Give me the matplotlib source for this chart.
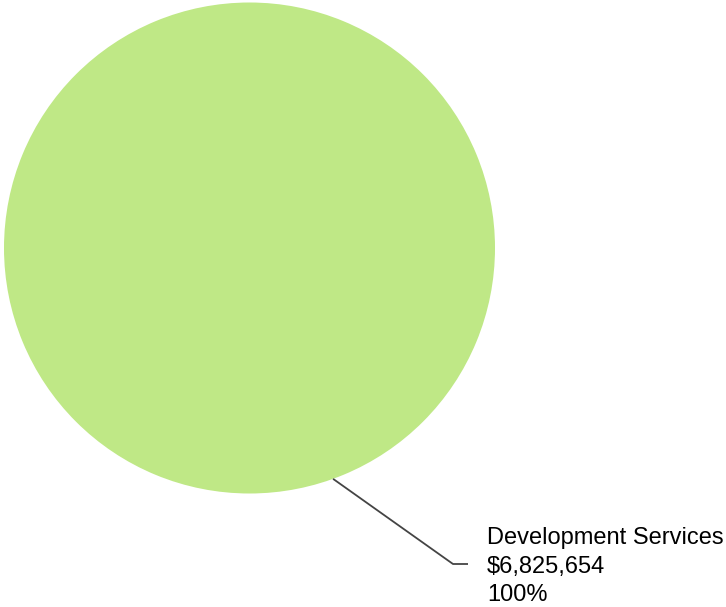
import numpy as np
import matplotlib
matplotlib.use("Agg")
import matplotlib.pyplot as plt

categories = ["Development Services"]
values = [6825654]
colors = ["#bfe886"]

W, H = 726, 607
fig = plt.figure(figsize=(W / 100, H / 100), dpi=100)
ax = fig.add_axes([0, 0, 1, 1])

cx, cy, r = 249.5, 248.0, 245.5
ax.pie(values, colors=colors, center=(cx, cy), radius=r, startangle=90,
       wedgeprops=dict(linewidth=0))
ax.set_xlim(0, W)
ax.set_ylim(H, 0)
ax.set_aspect("equal")
ax.axis("off")

total = sum(values)
# leader line
ang = np.deg2rad(70.1)
x0 = cx + r * np.cos(ang)
y0 = cy + r * np.sin(ang)
elbow = (453, 564)
end = (468, 564)
ax.plot([x0, elbow[0], end[0]], [y0, elbow[1], end[1]], color="#444444", lw=1.3,
        solid_capstyle="butt")

lines = [categories[0], f"${values[0]:,.0f}", f"{values[0] / total * 100:.0f}%"]
for i, t in enumerate(lines):
    ax.text(487, 544 + 28.5 * i, t, fontsize=17, family="Liberation Sans",
            color="#000000", ha="left", va="baseline")

fig.savefig("out.png", dpi=100)
